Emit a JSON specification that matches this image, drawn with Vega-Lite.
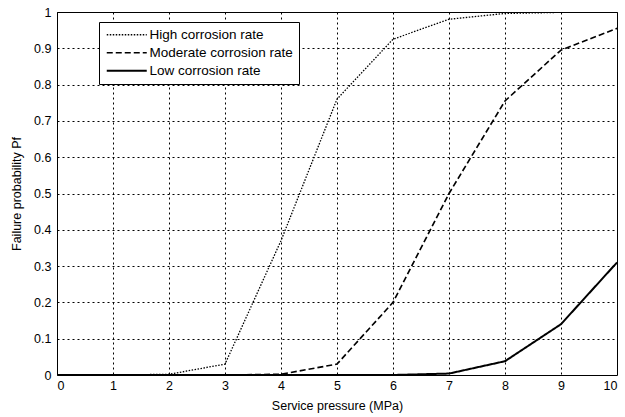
{
  "$schema": "https://vega.github.io/schema/vega-lite/v6.json",
  "autosize": {"type": "none"},
  "padding": {"left": 57, "top": 12, "right": 8, "bottom": 42},
  "width": 560,
  "height": 363,
  "background": "white",
  "config": {
    "font": "Liberation Sans",
    "view": {"stroke": "black", "strokeWidth": 1},
    "axis": {
      "labelFont": "Liberation Sans",
      "labelFontSize": 12.5,
      "labelColor": "black",
      "titleFont": "Liberation Sans",
      "titleFontSize": 12.5,
      "titleFontWeight": "normal",
      "titleColor": "black",
      "domain": false,
      "ticks": false,
      "grid": true,
      "gridColor": "black",
      "gridOpacity": 1,
      "gridWidth": 1,
      "gridDash": [2, 3]
    }
  },
  "data": {
    "values": [
      {"p": 0, "pf": 0, "series": "High corrosion rate"},
      {"p": 1, "pf": 0, "series": "High corrosion rate"},
      {"p": 2, "pf": 0.002, "series": "High corrosion rate"},
      {"p": 3, "pf": 0.03, "series": "High corrosion rate"},
      {"p": 4, "pf": 0.37, "series": "High corrosion rate"},
      {"p": 5, "pf": 0.76, "series": "High corrosion rate"},
      {"p": 6, "pf": 0.925, "series": "High corrosion rate"},
      {"p": 7, "pf": 0.98, "series": "High corrosion rate"},
      {"p": 8, "pf": 0.996, "series": "High corrosion rate"},
      {"p": 9, "pf": 0.999, "series": "High corrosion rate"},
      {"p": 10, "pf": 1, "series": "High corrosion rate"},
      {"p": 0, "pf": 0, "series": "Moderate corrosion rate"},
      {"p": 1, "pf": 0, "series": "Moderate corrosion rate"},
      {"p": 2, "pf": 0, "series": "Moderate corrosion rate"},
      {"p": 3, "pf": 0, "series": "Moderate corrosion rate"},
      {"p": 4, "pf": 0.002, "series": "Moderate corrosion rate"},
      {"p": 5, "pf": 0.03, "series": "Moderate corrosion rate"},
      {"p": 6, "pf": 0.2, "series": "Moderate corrosion rate"},
      {"p": 7, "pf": 0.5, "series": "Moderate corrosion rate"},
      {"p": 8, "pf": 0.755, "series": "Moderate corrosion rate"},
      {"p": 9, "pf": 0.895, "series": "Moderate corrosion rate"},
      {"p": 10, "pf": 0.955, "series": "Moderate corrosion rate"},
      {"p": 0, "pf": 0, "series": "Low corrosion rate"},
      {"p": 1, "pf": 0, "series": "Low corrosion rate"},
      {"p": 2, "pf": 0, "series": "Low corrosion rate"},
      {"p": 3, "pf": 0, "series": "Low corrosion rate"},
      {"p": 4, "pf": 0, "series": "Low corrosion rate"},
      {"p": 5, "pf": 0, "series": "Low corrosion rate"},
      {"p": 6, "pf": 0, "series": "Low corrosion rate"},
      {"p": 7, "pf": 0.004, "series": "Low corrosion rate"},
      {"p": 8, "pf": 0.038, "series": "Low corrosion rate"},
      {"p": 9, "pf": 0.14, "series": "Low corrosion rate"},
      {"p": 10, "pf": 0.31, "series": "Low corrosion rate"}
    ]
  },
  "mark": {"type": "line", "color": "black", "clip": true},
  "encoding": {
    "x": {
      "field": "p",
      "type": "quantitative",
      "scale": {"domain": [0, 10], "nice": false},
      "axis": {"values": [0, 1, 2, 3, 4, 5, 6, 7, 8, 9, 10], "format": "d", "title": "Service pressure (MPa)", "labelPadding": 4, "titlePadding": 8}
    },
    "y": {
      "field": "pf",
      "type": "quantitative",
      "scale": {"domain": [0, 1], "nice": false},
      "axis": {"values": [0, 0.1, 0.2, 0.3, 0.4, 0.5, 0.6, 0.7, 0.8, 0.9, 1], "format": "~g", "title": "Failure probability Pf", "labelPadding": 6, "titlePadding": 10}
    },
    "strokeDash": {
      "field": "series",
      "type": "nominal",
      "scale": {
        "domain": ["High corrosion rate", "Moderate corrosion rate", "Low corrosion rate"],
        "range": [[1.5, 1.5], [6, 3], [1, 0]]
      },
      "legend": {
        "title": null,
        "orient": "none",
        "legendX": 42,
        "legendY": 10,
        "direction": "vertical",
        "symbolType": "M-4,0H4",
        "symbolSize": 100,
        "symbolOffset": 15,
        "symbolStrokeColor": "black",
        "symbolFillColor": "transparent",
        "labelFont": "Liberation Sans",
        "labelFontSize": 13.5,
        "labelColor": "black",
        "labelLimit": 300,
        "labelOffset": 16,
        "rowPadding": 3,
        "padding": 6,
        "strokeColor": "black",
        "fillColor": "white"
      }
    },
    "strokeWidth": {
      "field": "series",
      "type": "nominal",
      "scale": {
        "domain": ["High corrosion rate", "Moderate corrosion rate", "Low corrosion rate"],
        "range": [1.3, 2, 2]
      },
      "legend": null
    }
  }
}
